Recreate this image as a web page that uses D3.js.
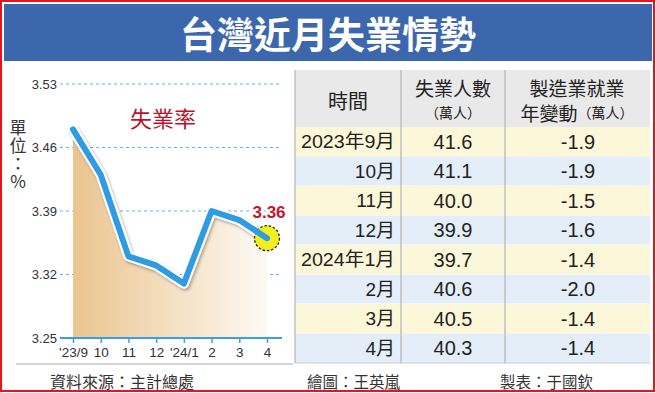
<!DOCTYPE html>
<html>
<head>
<meta charset="utf-8">
<script src="https://cdn.jsdelivr.net/npm/d3@7"></script>
<style>
  html, body { margin: 0; padding: 0; background: #fff; }
  svg { display: block; }
  text { font-family: "Liberation Sans", "Noto Sans CJK TC", sans-serif; }
  .cjk { font-family: "Noto Sans CJK TC", sans-serif; }
  .vert { writing-mode: vertical-rl; text-orientation: upright; }
</style>
</head>
<body>
<svg id="chart" width="656" height="393"></svg>
<script>
// chart data
const months = ["'23/9", "10", "11", "12", "'24/1", "2", "3", "4"];
const rate = [3.48, 3.43, 3.34, 3.33, 3.31, 3.39, 3.38, 3.36];
const yTicks = [3.25, 3.32, 3.39, 3.46, 3.53];

// table data
const tableHead = ["時間", "失業人數", "製造業就業"];
const tableMonths = ["2023年9月", "10月", "11月", "12月", "2024年1月", "2月", "3月", "4月"];
const unemployed = ["41.6", "41.1", "40.0", "39.9", "39.7", "40.6", "40.5", "40.3"];
const mfgChange = ["-1.9", "-1.9", "-1.5", "-1.6", "-1.4", "-2.0", "-1.4", "-1.4"];

const svg = d3.select("#chart");

const defs = svg.append("defs");
const grad = defs.append("linearGradient").attr("id", "areaGrad")
  .attr("x1", "0%").attr("x2", "100%").attr("y1", "0%").attr("y2", "0%");
grad.append("stop").attr("offset", "0%").attr("stop-color", "#ebc48f");
grad.append("stop").attr("offset", "55%").attr("stop-color", "#f5e2c6");
grad.append("stop").attr("offset", "100%").attr("stop-color", "#fdfaf5");

const shadow = defs.append("filter").attr("id", "shadow")
  .attr("x", "-20%").attr("y", "-20%").attr("width", "140%").attr("height", "140%");
shadow.append("feDropShadow").attr("dx", 1.5).attr("dy", 2)
  .attr("stdDeviation", 1.5).attr("flood-color", "#000").attr("flood-opacity", 0.3);

// frame + banner
svg.append("rect").attr("x", 1).attr("y", 1).attr("width", 653).attr("height", 390)
  .attr("fill", "#fff").attr("stroke", "#e8141b").attr("stroke-width", 2);
svg.append("rect").attr("x", 4).attr("y", 4).attr("width", 648).attr("height", 57)
  .attr("fill", "#3d67ad");
svg.append("text").attr("class", "cjk")
  .attr("x", 328).attr("y", 33).attr("text-anchor", "middle").attr("dominant-baseline", "central")
  .attr("font-size", 37).attr("font-weight", "bold").attr("fill", "#fff")
  .text("台灣近月失業情勢");

// line chart
const x = d3.scalePoint().domain(months).range([73, 267]);
const y = d3.scaleLinear().domain([3.25, 3.53]).range([338, 84]);

// gridlines
svg.append("g").selectAll("line").data(yTicks.slice(1)).join("line")
  .attr("x1", 60).attr("x2", 282)
  .attr("y1", d => y(d)).attr("y2", d => y(d))
  .attr("stroke", "#5cb8ea").attr("stroke-width", 1.2).attr("stroke-dasharray", "3,3");

// y labels
const yAxis = svg.append("g").attr("transform", "translate(57,0)")
  .call(d3.axisLeft(y).tickValues(yTicks).tickSize(0).tickPadding(0).tickFormat(d3.format(".2f")));
yAxis.select(".domain").remove();
yAxis.selectAll("text").attr("font-size", 13).attr("fill", "#333")
  .attr("font-family", "'DejaVu Sans', sans-serif");

const pts = months.map((m, i) => [x(m), y(rate[i])]);

// area
svg.append("path")
  .attr("d", d3.area().x(d => d[0]).y0(y(3.25)).y1(d => d[1])(pts))
  .attr("fill", "url(#areaGrad)");

// x axis
const xAxis = svg.append("g").attr("transform", `translate(0,${y(3.25)})`)
  .call(d3.axisBottom(x).tickSize(5).tickPadding(4));
xAxis.select(".domain").remove();
xAxis.selectAll("line").attr("stroke", "#3aa0e0").attr("stroke-width", 1.5);
xAxis.selectAll("text").attr("font-size", 13.5).attr("fill", "#333")
  .attr("font-family", "'DejaVu Sans', sans-serif");
svg.append("line").attr("x1", 60).attr("x2", 282)
  .attr("y1", y(3.25)).attr("y2", y(3.25))
  .attr("stroke", "#3aa0e0").attr("stroke-width", 2);

// line with white casing
const lineGen = d3.line();
svg.append("path").attr("d", lineGen(pts))
  .attr("fill", "none").attr("stroke", "#fff").attr("stroke-width", 10)
  .attr("stroke-linejoin", "round").attr("stroke-linecap", "round")
  .attr("filter", "url(#shadow)");

// end marker
const last = pts[pts.length - 1];
svg.append("circle").attr("cx", last[0]).attr("cy", last[1]).attr("r", 12.5)
  .attr("fill", "#f3ee1c").attr("stroke", "#222").attr("stroke-width", 1.3)
  .attr("stroke-dasharray", "2.5,1.8");

svg.append("path").attr("d", lineGen(pts))
  .attr("fill", "none").attr("stroke", "#2f9be2").attr("stroke-width", 6)
  .attr("stroke-linejoin", "round").attr("stroke-linecap", "round");

// last value label
svg.append("text").attr("x", last[0] + 2).attr("y", last[1] - 26)
  .attr("text-anchor", "middle").attr("dominant-baseline", "central")
  .attr("font-size", 17).attr("font-weight", "bold").attr("fill", "#c0172d")
  .attr("stroke", "#fff").attr("stroke-width", 4).attr("paint-order", "stroke")
  .text(d3.format(".2f")(rate[rate.length - 1]));

// chart title
svg.append("text").attr("class", "cjk").attr("x", 163).attr("y", 117)
  .attr("text-anchor", "middle").attr("dominant-baseline", "central")
  .attr("font-size", 22).attr("fill", "#b8142d").text("失業率");

// unit, written vertically as one text
svg.append("text").attr("class", "cjk vert")
  .attr("x", 18).attr("y", 119)
  .attr("font-size", 17).attr("letter-spacing", 1).attr("fill", "#333")
  .text("單位：%");

// bottom rule + source
svg.append("line").attr("x1", 16).attr("x2", 293).attr("y1", 364).attr("y2", 364)
  .attr("stroke", "#c8c8c8").attr("stroke-width", 1.5);
svg.append("text").attr("class", "cjk").attr("x", 50).attr("y", 381)
  .attr("dominant-baseline", "central").attr("font-size", 16).attr("fill", "#333")
  .text("資料來源：主計總處");
svg.append("text").attr("class", "cjk").attr("x", 307).attr("y", 381)
  .attr("dominant-baseline", "central").attr("font-size", 15.5).attr("fill", "#333")
  .text("繪圖：王英嵐");
svg.append("text").attr("class", "cjk").attr("x", 500).attr("y", 381)
  .attr("dominant-baseline", "central").attr("font-size", 15.5).attr("fill", "#333")
  .text("製表：于國欽");

// table
const colX = [295, 401, 505, 650];
const headTop = 70, headBot = 127, rowH = (363 - 127) / tableMonths.length;
const tbl = svg.append("g");
tbl.append("rect").attr("x", colX[0]).attr("y", headTop)
  .attr("width", colX[3] - colX[0]).attr("height", headBot - headTop).attr("fill", "#e9e9e9");

const rows = tbl.selectAll("g.row").data(tableMonths).join("g")
  .attr("transform", (d, i) => `translate(0,${headBot + i * rowH})`);
rows.append("rect").attr("x", colX[0]).attr("width", colX[3] - colX[0]).attr("height", rowH)
  .attr("fill", (d, i) => i % 2 === 0 ? "#fdf7da" : "#e4eef9");
rows.append("line").attr("x1", colX[0]).attr("x2", colX[3]).attr("y1", rowH).attr("y2", rowH)
  .attr("stroke", "#fff").attr("stroke-width", 1);
rows.append("text").attr("x", colX[1] - 6).attr("y", rowH / 2)
  .attr("text-anchor", "end").attr("dominant-baseline", "central")
  .attr("font-size", 19).attr("fill", "#222")
  .attr("textLength", d => d.length > 4 ? 94 : null)
  .attr("lengthAdjust", "spacingAndGlyphs")
  .text(d => d);
rows.append("text").attr("x", 453).attr("y", rowH / 2)
  .attr("text-anchor", "middle").attr("dominant-baseline", "central")
  .attr("font-size", 20).attr("fill", "#222").text((d, i) => unemployed[i]);
rows.append("text").attr("x", 578).attr("y", rowH / 2)
  .attr("text-anchor", "middle").attr("dominant-baseline", "central")
  .attr("font-size", 20).attr("fill", "#222").text((d, i) => mfgChange[i]);

tbl.selectAll("line.v").data(colX.slice(0, 3)).join("line").attr("class", "v")
  .attr("x1", d => d).attr("x2", d => d).attr("y1", headTop).attr("y2", 363)
  .attr("stroke", "#b5b5b5").attr("stroke-width", 1.2);
tbl.append("line").attr("x1", colX[0]).attr("x2", colX[3]).attr("y1", 363).attr("y2", 363)
  .attr("stroke", "#c8c8c8").attr("stroke-width", 1);

// header text
tbl.append("text").attr("class", "cjk").attr("x", 348).attr("y", 100)
  .attr("text-anchor", "middle").attr("dominant-baseline", "central")
  .attr("font-size", 20).attr("fill", "#222").text(tableHead[0]);
tbl.append("text").attr("class", "cjk").attr("x", 453).attr("y", 87)
  .attr("text-anchor", "middle").attr("dominant-baseline", "central")
  .attr("font-size", 19).attr("fill", "#222").text(tableHead[1]);
tbl.append("text").attr("class", "cjk").attr("x", 453).attr("y", 112)
  .attr("text-anchor", "middle").attr("dominant-baseline", "central")
  .attr("font-size", 14).attr("fill", "#222").text("（萬人）");
tbl.append("text").attr("class", "cjk").attr("x", 577).attr("y", 87)
  .attr("text-anchor", "middle").attr("dominant-baseline", "central")
  .attr("font-size", 19).attr("fill", "#222").text(tableHead[2]);
const sub = tbl.append("text").attr("class", "cjk").attr("x", 577).attr("y", 112)
  .attr("text-anchor", "middle").attr("dominant-baseline", "central").attr("fill", "#222");
sub.append("tspan").attr("font-size", 19).text("年變動");
sub.append("tspan").attr("font-size", 14).text("（萬人）");
</script>
</body>
</html>
